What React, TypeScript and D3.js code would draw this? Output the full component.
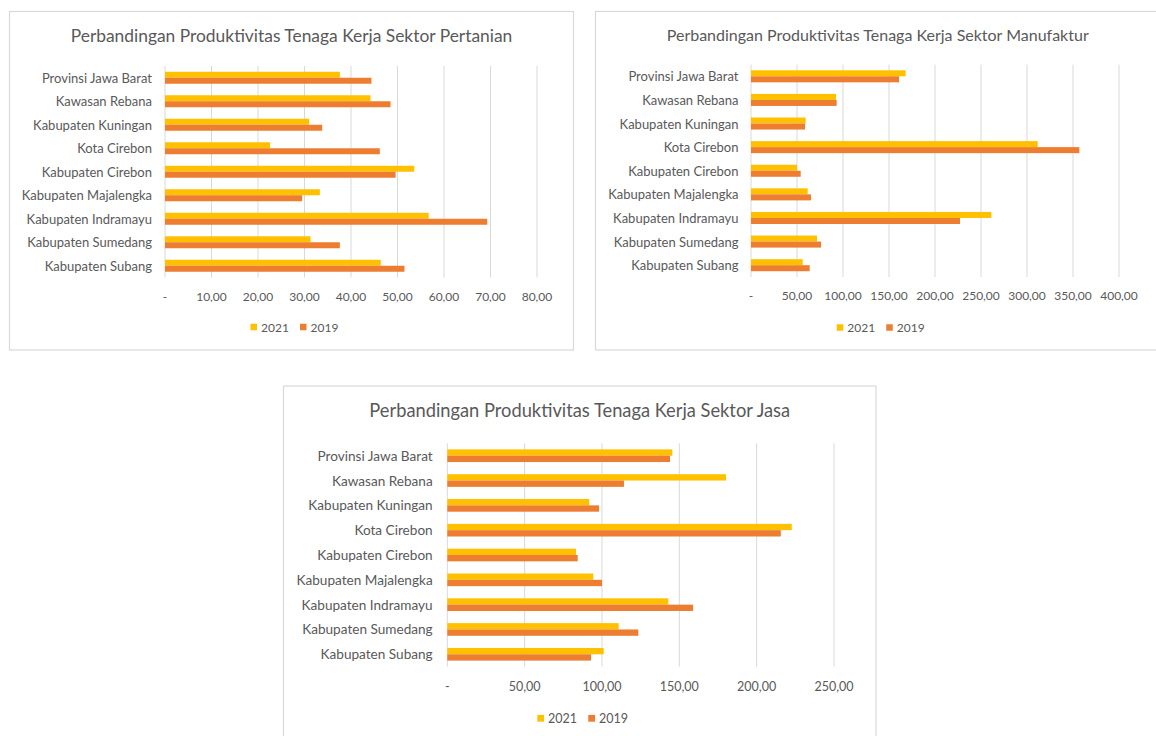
import React from "react";
import * as d3 from "d3";

const categories = [
  "Provinsi Jawa Barat",
  "Kawasan Rebana",
  "Kabupaten Kuningan",
  "Kota Cirebon",
  "Kabupaten Cirebon",
  "Kabupaten Majalengka",
  "Kabupaten Indramayu",
  "Kabupaten Sumedang",
  "Kabupaten Subang",
];
const seriesNames = ["2021", "2019"];

const pertanian2021 = [37.6, 44.2, 31.0, 22.6, 53.6, 33.3, 56.7, 31.3, 46.4];
const pertanian2019 = [44.4, 48.5, 33.8, 46.2, 49.6, 29.5, 69.3, 37.6, 51.5];
const pertanianTicks = [0, 10, 20, 30, 40, 50, 60, 70, 80];

const manufaktur2021 = [168.1, 92.4, 59.4, 311.6, 50.0, 61.6, 261.2, 71.7, 56.2];
const manufaktur2019 = [160.9, 93.1, 58.7, 356.9, 54.0, 65.2, 227.2, 76.1, 63.8];
const manufakturTicks = [0, 50, 100, 150, 200, 250, 300, 350, 400];

const jasa2021 = [145.5, 180.2, 91.8, 222.7, 83.2, 94.4, 142.9, 110.8, 101.1];
const jasa2019 = [144.0, 114.2, 98.1, 215.6, 84.3, 100.0, 158.9, 123.5, 92.9];
const jasaTicks = [0, 50, 100, 150, 200, 250];

const titles = [
  "Perbandingan Produktivitas Tenaga Kerja Sektor Pertanian",
  "Perbandingan Produktivitas Tenaga Kerja Sektor Manufaktur",
  "Perbandingan Produktivitas Tenaga Kerja Sektor Jasa",
];

const COLORS = ["#FFC000", "#ED7D31"];
const TEXT = "#595959";
const GRID = "#D9D9D9";
const FONT = "Lato, 'Open Sans', sans-serif";

const fmt = (v: number) => (v === 0 ? "-" : v.toFixed(2).replace(".", ","));

type Props = {
  title: string;
  a: number[];
  b: number[];
  ticks: number[];
  frame: { x0: number; y0: number; x1: number; y1: number };
  plot: { x0: number; y0: number; x1: number; y1: number };
  titleY: number;
  labelX: number;
  tickY: number;
  legendY: number;
  titleSize: number;
  labelSize: number;
  tickSize: number;
};

function BarChart(p: Props) {
  const x = d3
    .scaleLinear()
    .domain([0, p.ticks[p.ticks.length - 1]])
    .range([p.plot.x0, p.plot.x1]);
  const y = d3
    .scaleBand<string>()
    .domain(categories)
    .range([p.plot.y0, p.plot.y1])
    .paddingInner(0.49)
    .paddingOuter(0.245);
  const inner = d3
    .scaleBand<string>()
    .domain(seriesNames)
    .range([0, y.bandwidth()]);
  const cx = (p.frame.x0 + Math.min(p.frame.x1, 1160)) / 2;
  const data = [p.a, p.b];
  const fs = p.tickSize / 12;
  const sq = 6.5 * fs;
  const tw = 28 * fs;
  const legW = 2 * (sq + 4 + tw) + 11;
  const lx = cx + 3 - legW / 2;
  return (
    <g fontFamily={FONT} fill={TEXT}>
      <rect
        x={p.frame.x0}
        y={p.frame.y0}
        width={p.frame.x1 - p.frame.x0}
        height={p.frame.y1 - p.frame.y0}
        fill="#fff"
        stroke={GRID}
        strokeWidth={1.2}
      />
      <text x={cx} y={p.titleY} textAnchor="middle" fontSize={p.titleSize}>
        {p.title}
      </text>
      {p.ticks.map((t) => (
        <g key={t}>
          <line
            x1={x(t)}
            x2={x(t)}
            y1={p.plot.y0}
            y2={p.plot.y1}
            stroke={GRID}
            strokeWidth={1}
          />
          <text
            x={x(t)}
            y={p.tickY}
            textAnchor="middle"
            dominantBaseline="central"
            fontSize={p.tickSize}
          >
            {fmt(t)}
          </text>
        </g>
      ))}
      {categories.map((c, i) => (
        <g key={c}>
          <text
            x={p.labelX}
            y={(y(c) as number) + y.bandwidth() / 2}
            textAnchor="end"
            dominantBaseline="central"
            fontSize={p.labelSize}
          >
            {c}
          </text>
          {seriesNames.map((s, k) => (
            <rect
              key={s}
              x={x(0)}
              y={(y(c) as number) + (inner(s) as number)}
              width={x(data[k][i]) - x(0)}
              height={inner.bandwidth()}
              fill={COLORS[k]}
            />
          ))}
        </g>
      ))}
      {seriesNames.map((s, k) => {
        const ox = lx + k * (sq + 4 + tw + 11);
        return (
          <g key={s}>
            <rect x={ox} y={p.legendY - sq / 2} width={sq} height={sq} fill={COLORS[k]} />
            <text
              x={ox + sq + 4}
              y={p.legendY}
              dominantBaseline="central"
              fontSize={p.tickSize}
            >
              {s}
            </text>
          </g>
        );
      })}
    </g>
  );
}

export default function App() {
  return (
    <svg
      width={1156}
      height={736}
      style={{ position: "absolute", left: 0, top: 0, background: "#fff" }}
    >
      <BarChart
        title={titles[0]}
        a={pertanian2021}
        b={pertanian2019}
        ticks={pertanianTicks}
        frame={{ x0: 9.5, y0: 11.5, x1: 573.5, y1: 350 }}
        plot={{ x0: 165, y0: 66, x1: 537, y1: 277.5 }}
        titleY={41.5}
        labelX={152}
        tickY={296}
        legendY={327}
        titleSize={17.4}
        labelSize={13}
        tickSize={12}
      />
      <BarChart
        title={titles[1]}
        a={manufaktur2021}
        b={manufaktur2019}
        ticks={manufakturTicks}
        frame={{ x0: 595.5, y0: 11.5, x1: 1170, y1: 350 }}
        plot={{ x0: 751, y0: 64.5, x1: 1119, y1: 277 }}
        titleY={41}
        labelX={738.5}
        tickY={295.7}
        legendY={327.5}
        titleSize={16}
        labelSize={13}
        tickSize={12}
      />
      <BarChart
        title={titles[2]}
        a={jasa2021}
        b={jasa2019}
        ticks={jasaTicks}
        frame={{ x0: 283.5, y0: 386, x1: 876, y1: 760 }}
        plot={{ x0: 447.3, y0: 443.3, x1: 834, y1: 666.7 }}
        titleY={417}
        labelX={432.7}
        tickY={686}
        legendY={718.3}
        titleSize={18.3}
        labelSize={13.6}
        tickSize={12.5}
      />
    </svg>
  );
}
